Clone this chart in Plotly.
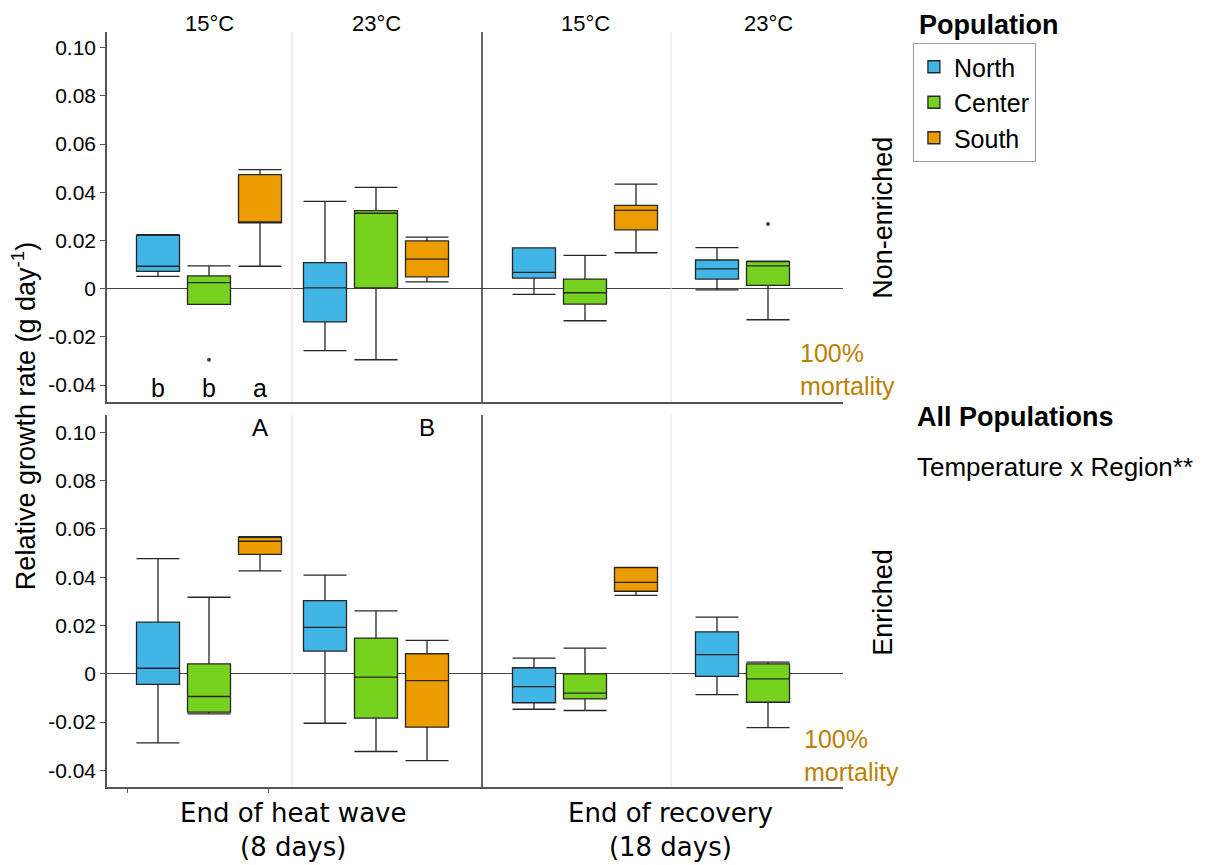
import plotly.graph_objects as go

# ---------------- DATA ----------------
conditions = ["Heat wave 15°C", "Heat wave 23°C", "Recovery 15°C", "Recovery 23°C"]
temp_labels = ["15°C", "23°C", "15°C", "23°C"]
populations = ["North", "Center", "South"]

# Non-enriched (rows: North, Center, South; cols: conditions)
ne_low = [[0.0051, -0.0257, -0.0024, -0.0005],
          [-0.0065, -0.0295, -0.0133, -0.0129],
          [0.0093, 0.0028, 0.0149, None]]
ne_q1 = [[0.0072, -0.0138, 0.0044, 0.0040],
         [-0.0065, 0.0003, -0.0064, 0.0014],
         [0.0273, 0.0049, 0.0244, None]]
ne_med = [[0.0093, 0.0003, 0.0068, 0.0082],
          [0.0025, 0.0313, -0.0017, 0.0095],
          [0.0277, 0.0123, 0.0325, None]]
ne_q3 = [[0.0221, 0.0108, 0.0169, 0.0119],
         [0.0053, 0.0324, 0.0040, 0.0112],
         [0.0473, 0.0198, 0.0346, None]]
ne_high = [[0.0224, 0.0362, 0.0169, 0.0170],
           [0.0095, 0.0420, 0.0138, 0.0114],
           [0.0494, 0.0214, 0.0434, None]]

# Enriched
en_low = [[-0.0286, -0.0205, -0.0147, -0.0086],
          [-0.0166, -0.0322, -0.0152, -0.0223],
          [0.0426, -0.0360, 0.0325, None]]
en_q1 = [[-0.0044, 0.0094, -0.0120, -0.0011],
         [-0.0159, -0.0184, -0.0104, -0.0118],
         [0.0495, -0.0221, 0.0342, None]]
en_med = [[0.0023, 0.0192, -0.0053, 0.0079],
          [-0.0094, -0.0014, -0.0080, -0.0021],
          [0.0549, -0.0028, 0.0379, None]]
en_q3 = [[0.0214, 0.0303, 0.0025, 0.0174],
         [0.0041, 0.0148, 0.0000, 0.0041],
         [0.0565, 0.0083, 0.0440, None]]
en_high = [[0.0477, 0.0409, 0.0065, 0.0235],
           [0.0317, 0.0261, 0.0106, 0.0048],
           [0.0568, 0.0138, 0.0441, None]]

# outliers: (population index, condition index, value)
ne_outliers = [(1, 0, -0.0295), (1, 3, 0.0268)]
en_outliers = []

posthoc_letters = ["b", "b", "a"]          # Non-enriched, heat wave 15°C
temp_letters = ["A", "B"]                  # Enriched, heat wave 15 / 23°C

# ---------------- LAYOUT CONSTANTS ----------------
colors = ["#41b5e5", "#77d220", "#ec9c00"]
group_centers = [102, 269, 478, 661]
offsets = [-51, 0, 51]
box_w = 43
x_range = [0, 736]
light_div = [185, 564]
dark_div = 375
FONT = "Liberation Sans, Arial, Helvetica, sans-serif"
MORT = "#bb7f06"

fig = go.Figure()

def add_row(low, q1, med, q3, high, outl, xa, ya, show):
    for p, name in enumerate(populations):
        xs, l_, a_, m_, b_, h_ = [], [], [], [], [], []
        for c in range(len(conditions)):
            if med[p][c] is None:
                continue
            xs.append(group_centers[c] + offsets[p])
            l_.append(low[p][c]); a_.append(q1[p][c]); m_.append(med[p][c])
            b_.append(q3[p][c]); h_.append(high[p][c])
        fig.add_trace(go.Box(
            name=name, legendgroup=name, showlegend=show,
            x=xs, lowerfence=l_, q1=a_, median=m_, q3=b_, upperfence=h_,
            width=box_w, whiskerwidth=1, boxpoints=False,
            fillcolor=colors[p], line=dict(color="#262626", width=1.3),
            xaxis=xa, yaxis=ya, hoverinfo="skip"))
    if outl:
        fig.add_trace(go.Scatter(
            x=[group_centers[c] + offsets[p] for p, c, v in outl],
            y=[v for p, c, v in outl], mode="markers",
            marker=dict(color="#444", size=4), showlegend=False,
            xaxis=xa, yaxis=ya, hoverinfo="skip"))

add_row(ne_low, ne_q1, ne_med, ne_q3, ne_high, ne_outliers, "x", "y", True)
add_row(en_low, en_q1, en_med, en_q3, en_high, en_outliers, "x2", "y2", False)

axis_line = dict(showline=True, linecolor="#555", linewidth=1.5, showgrid=False)
ytick = dict(tickvals=[-0.04, -0.02, 0, 0.02, 0.04, 0.06, 0.08, 0.10],
             ticktext=["-0.04", "-0.02", "0", "0.02", "0.04", "0.06", "0.08", "0.10"],
             ticks="outside", ticklen=5, tickcolor="#555",
             tickfont=dict(size=21, color="black", family=FONT),
             zeroline=True, zerolinecolor="#444", zerolinewidth=1)

fig.update_layout(
    width=1222, height=865, autosize=False,
    margin=dict(l=107, r=379, t=32, b=78),
    paper_bgcolor="white", plot_bgcolor="white",
    boxmode="overlay",
    font=dict(family=FONT, color="black"),
    xaxis=dict(domain=[0, 1], range=x_range, anchor="y", showticklabels=False,
               ticks="", **axis_line),
    xaxis2=dict(domain=[0, 1], range=x_range, anchor="y2", showticklabels=False,
                tickvals=[20, 161], ticks="outside", ticklen=4, tickcolor="#555",
                **axis_line),
    yaxis=dict(domain=[0.510, 1], range=[-0.047, 0.1065], anchor="x", **axis_line, **ytick),
    yaxis2=dict(domain=[0, 0.4927], range=[-0.0469, 0.1072], anchor="x2", **axis_line, **ytick),
    legend=dict(x=1.095, y=0.9854, xanchor="left", yanchor="top",
                bordercolor="#999", borderwidth=1, bgcolor="white",
                font=dict(size=25, family=FONT, color="black"), tracegroupgap=0,
                itemwidth=30),
)

shapes = []
for xr, yr in (("x", "y domain"), ("x2", "y2 domain")):
    for xd in light_div:
        shapes.append(dict(type="line", xref=xr, yref=yr, x0=xd, x1=xd, y0=0, y1=1,
                           line=dict(color="#e0e0e0", width=1)))
    shapes.append(dict(type="line", xref=xr, yref=yr, x0=dark_div, x1=dark_div, y0=0, y1=1,
                       line=dict(color="#333", width=1.5)))
fig.update_layout(shapes=shapes)

ann = []
def A(**kw):
    kw.setdefault("showarrow", False)
    kw.setdefault("xanchor", "center")
    kw.setdefault("yanchor", "middle")
    ann.append(kw)

for c, t in enumerate(temp_labels):
    A(text=t, x=group_centers[c], xref="x", y=1, yref="paper", yshift=9,
      font=dict(size=22))
for p, l in enumerate(posthoc_letters):
    A(text=l, x=group_centers[0] + offsets[p], xref="x", y=-0.0411, yref="y",
      font=dict(size=25))
for c, l in enumerate(temp_letters):
    A(text=l, x=group_centers[c] + offsets[2], xref="x2", y=0.1022, yref="y2",
      font=dict(size=24))
A(text="100%<br>mortality", x=691, xref="x", y=-0.0336, yref="y",
  xanchor="left", align="left", font=dict(size=25, color=MORT))
A(text="100%<br>mortality", x=695, xref="x2", y=-0.0337, yref="y2",
  xanchor="left", align="left", font=dict(size=25, color=MORT))
A(text="Non-enriched", x=1.054, xref="paper", y=0.7536, yref="paper",
  textangle=-90, font=dict(size=27))
A(text="Enriched", x=1.054, xref="paper", y=0.245, yref="paper",
  textangle=-90, font=dict(size=27))
A(text="Relative growth rate (g day<sup>-1</sup>)", x=-0.113, xref="paper",
  y=0.491, yref="paper", textangle=-90, font=dict(size=27))
A(text="End of heat wave<br>(8 days)", x=186, xref="x2", y=-0.057, yref="paper",
  font=dict(size=26, family="DejaVu Sans"))
A(text="End of recovery<br>(18 days)", x=563, xref="x2", y=-0.057, yref="paper",
  font=dict(size=26, family="DejaVu Sans"))
A(text="<b>Population</b>", x=1.1005, xref="paper", y=1.009, yref="paper",
  xanchor="left", font=dict(size=27))
A(text="<b>All Populations</b>", x=1.098, xref="paper", y=0.49, yref="paper",
  xanchor="left", font=dict(size=27))
A(text="Temperature x Region**", x=1.098, xref="paper", y=0.4238, yref="paper",
  xanchor="left", font=dict(size=26))
fig.update_layout(annotations=ann)

fig.write_html("out.html")
